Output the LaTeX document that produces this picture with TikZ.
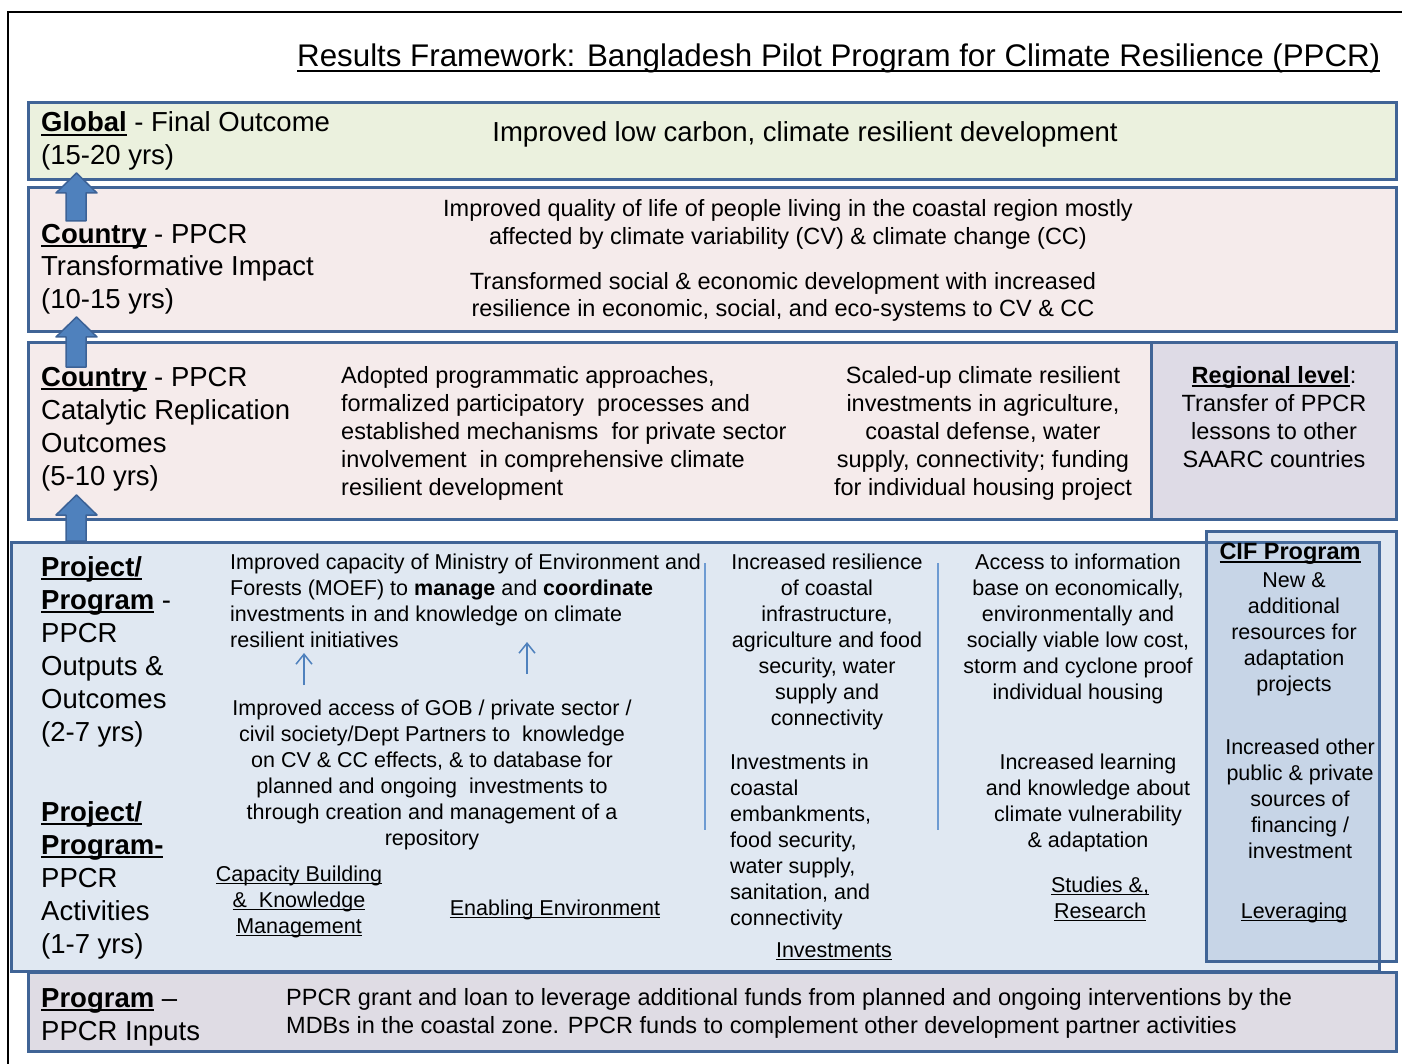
\documentclass[tikz,border=0pt]{standalone}
\usepackage{fontspec}
\setmainfont{Liberation Sans}
\usetikzlibrary{arrows.meta}

\definecolor{boxline}{RGB}{64,100,150}
\definecolor{arrfill}{RGB}{79,129,189}
\definecolor{arrline}{RGB}{60,98,150}
\definecolor{seplin}{RGB}{110,155,210}
\definecolor{greenfill}{RGB}{235,241,222}
\definecolor{pinkfill}{RGB}{245,235,235}
\definecolor{regfill}{RGB}{222,219,230}
\definecolor{projfill}{RGB}{224,232,242}
\definecolor{ciffill}{RGB}{100,140,190}
\definecolor{infill}{RGB}{223,220,228}

% underline at a fixed depth, and bold underlined level names
\newcommand{\ul}[1]{\setbox0=\hbox{#1}\rlap{\rule[-0.15em]{\wd0}{0.065em}}\box0}
\newcommand{\hd}[1]{\textbf{\ul{#1}}}

% text nodes sit on the baseline of their last line
\tikzset{
  box/.style={draw=boxline, line width=3pt, anchor=north west, inner sep=0pt},
  lab/.style={font=\fontsize{27.5}{33}\selectfont, align=left, anchor=base west, inner sep=0pt},
  txt/.style={font=\fontsize{23.5}{28}\selectfont, inner sep=0pt, anchor=base},
  sml/.style={font=\fontsize{21.5}{26}\selectfont, inner sep=0pt, anchor=base},
  up/.style={fill=arrfill, draw=arrline, line width=1.5pt, line join=round},
  thin/.style={draw=arrfill, line width=1.5pt, -{Straight Barb[length=10pt,width=16pt]}},
  sep/.style={draw=seplin, line width=1.5pt},
}

\begin{document}
\begin{tikzpicture}[x=1pt, y=-1pt]
\useasboundingbox (0,0) rectangle (1402,1064);
\draw[line width=2pt] (8,1064) |- (1402,12);

\node[font=\fontsize{31.3}{37}\selectfont, anchor=base west, inner sep=0pt] (title) at (297,67)
  {\ul{Results Framework: Bangladesh Pilot Program for Climate Resilience (PPCR)}};

% the levels
\node[box, fill=greenfill, minimum width=1368pt, minimum height=77pt] (glob) at (27,101) {};
\node[box, fill=pinkfill, minimum width=1368pt, minimum height=144pt] (trans) at (27,186) {};
\node[box, fill=pinkfill, minimum width=1123pt, minimum height=177pt] (catal) at (27,341) {};
\node[box, fill=regfill, minimum width=245pt, minimum height=177pt] (region) at (1150,341) {};
\node[box, fill=projfill, minimum width=1368pt, minimum height=429pt] (proj) at (10,541) {};
\node[box, fill=ciffill, fill opacity=0.2, minimum width=190pt, minimum height=430pt] (cif) at (1205,530) {};
\node[box, fill=infill, minimum width=1368pt, minimum height=79pt] (inputs) at (27,971) {};

% block arrows between levels
\foreach \tip/\bot in {173/221, 317/367, 495/541}
  \draw[up] (66,\bot) -- (66,\tip+20) -- (56,\tip+20) -- (76.5,\tip)
    -- (97,\tip+20) -- (86,\tip+20) -- (86,\bot) -- cycle;

% Global
\node[lab] (globlab) at (41,165) {\hd{Global} - Final Outcome\\(15-20 yrs)};
\node[font=\fontsize{27.5}{33}\selectfont, anchor=base, inner sep=0pt] (globtxt) at (805,142)
  {Improved low carbon, climate resilient development};

% Country - transformative
\node[lab] (translab) at (41,309) {\hd{Country} - PPCR\\Transformative Impact\\(10-15 yrs)};
\node[txt, align=center] (trans1) at (788,245) {Improved quality of life of people living in the coastal region mostly\\affected by climate variability (CV) \& climate change (CC)};
\node[txt, align=center] (trans2) at (783,317) {Transformed social \& economic development with increased\\resilience in economic, social, and eco-systems to CV \& CC};

% Country - catalytic
\node[lab] (catallab) at (41,485) {\hd{Country} - PPCR\\Catalytic Replication\\Outcomes\\(5-10 yrs)};
\node[txt, align=left, anchor=base west] (adopt) at (341,495) {Adopted programmatic approaches,\\formalized participatory\ \ processes and\\established mechanisms\ \ for private sector\\involvement\ \ in comprehensive climate\\resilient development};
\node[txt, align=center] (scaled) at (983,495) {Scaled-up climate resilient\\investments in agriculture,\\coastal defense, water\\supply, connectivity; funding\\for individual housing project};
\node[txt, align=center] (regtxt) at (1274,467) {\hd{Regional level}:\\Transfer of PPCR\\lessons to other\\SAARC countries};

% Project / program
\node[lab] (outlab) at (41,741) {\hd{Project/}\\\hd{Program} -\\PPCR\\Outputs \&\\Outcomes\\(2-7 yrs)};
\node[lab] (actlab) at (41,953) {\hd{Project/}\\\hd{Program-}\\PPCR\\Activities\\(1-7 yrs)};
\node[sml, align=left, anchor=base west] (moef) at (230,647) {Improved capacity of Ministry of Environment and\\Forests (MOEF) to \textbf{manage} and \textbf{coordinate}\\investments in and knowledge on climate\\resilient initiatives};
\node[sml, align=center] (access) at (432,845) {Improved access of GOB / private sector /\\civil society/Dept Partners to\ \ knowledge\\on CV \& CC effects, \& to database for\\planned and ongoing\ \ investments to\\through creation and management of a\\repository};
\node[sml, align=center] (capbld) at (299,933) {\ul{Capacity Building}\\\ul{\&\ \ Knowledge}\\\ul{Management}};
\node[sml] (enable) at (555,915) {\ul{Enabling Environment}};

\coordinate (k1) at (304,685);
\coordinate (m1) at (304,653);
\coordinate (k2) at (527,674);
\coordinate (m2) at (527,642);
\draw[thin] (k1) -- (m1);
\draw[thin] (k2) -- (m2);

\draw[sep] (705,563) -- (705,830);
\draw[sep] (938,563) -- (938,830);

\node[sml, align=center] (resil) at (827,725) {Increased resilience\\of coastal\\infrastructure,\\agriculture and food\\security, water\\supply and\\connectivity};
\node[sml, align=left, anchor=base west] (invest) at (730,925) {Investments in\\coastal\\embankments,\\food security,\\water supply,\\sanitation, and\\connectivity};
\node[sml] (investlab) at (834,957) {\ul{Investments}};

\node[sml, align=center] (info) at (1078,699) {Access to information\\base on economically,\\environmentally and\\socially viable low cost,\\storm and cyclone proof\\individual housing};
\node[sml, align=center] (learn) at (1088,847) {Increased learning\\and knowledge about\\climate vulnerability\\\& adaptation};
\node[sml, align=center] (study) at (1100,918) {\ul{Studies \&,}\\\ul{Research}};

% CIF
\node[txt] (ciflab) at (1290,559) {\hd{CIF Program}};
\node[sml, align=center] (newres) at (1294,691) {New \&\\additional\\resources for\\adaptation\\projects};
\node[sml, align=center] (other) at (1300,858) {Increased other\\public \& private\\sources of\\financing /\\investment};
\node[sml] (lever) at (1294,918) {\ul{Leveraging}};

% Inputs
\node[lab] (inlab) at (41,1040) {\hd{Program} –\\PPCR Inputs};
\node[txt, align=left, anchor=base west] (intxt) at (286,1033) {PPCR grant and loan to leverage additional funds from planned and ongoing interventions by the\\MDBs in the coastal zone. PPCR funds to complement other development partner activities};
\end{tikzpicture}
\end{document}
